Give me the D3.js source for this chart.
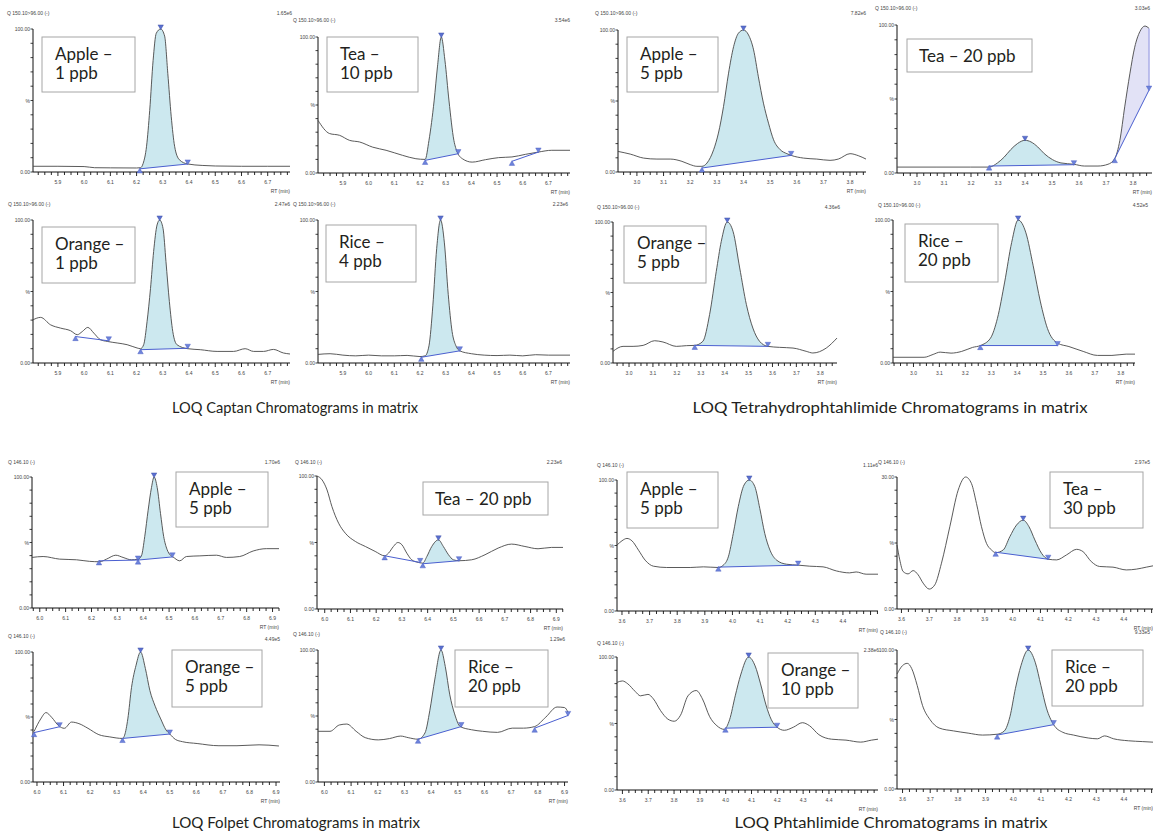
<!DOCTYPE html>
<html>
<head>
<meta charset="utf-8">
<script src="https://cdn.jsdelivr.net/npm/d3@7"></script>
<style>
  body { margin: 0; background: #fff; }
  svg { display: block; }
  .tiny { font-family: "Liberation Sans", Arial, sans-serif; font-size: 5px; fill: #444; }
  .sample { font-family: Lato, "Open Sans", sans-serif; font-size: 17px; fill: #231f20; }
  .caption { font-family: Lato, "Open Sans", sans-serif; font-size: 16px; fill: #231f20; }
</style>
</head>
<body>
<script>
var W = 1153, H = 832;

// ---- traces: [RT (min), % of panel max] ----
var captanApple = [[5.805,4],[5.9,4],[6.0,3.8],[6.04,3],[6.1,2.9],[6.2,2.8],[6.215,3],[6.225,6],[6.238,18],[6.25,43],[6.263,78],[6.275,97],[6.292,100],[6.307,95],[6.319,69],[6.332,39],[6.345,18],[6.363,8.6],[6.395,5.6],[6.45,4.6],[6.5,4.2],[6.6,4],[6.7,4],[6.785,4]];
var captanTea = [[5.803,38.7],[5.848,29],[5.887,27.7],[5.926,24],[5.965,22.8],[6.016,19],[6.068,16.7],[6.132,13],[6.184,10.5],[6.22,10],[6.235,24],[6.255,53],[6.268,78],[6.283,100],[6.297,83],[6.313,53],[6.332,24],[6.345,15.4],[6.365,10.5],[6.403,8],[6.455,9.8],[6.506,11.3],[6.558,11.8],[6.61,13.7],[6.661,15.4],[6.713,16.7],[6.784,16.7]];
var captanOrange = [[5.805,30.2],[5.834,31.9],[5.872,26.7],[5.91,24.4],[5.948,22.6],[5.974,19.8],[5.993,22],[6.014,24.9],[6.037,20.9],[6.062,16.3],[6.088,15.1],[6.126,14],[6.164,12.8],[6.202,10.5],[6.215,10],[6.227,12.8],[6.24,29],[6.253,52],[6.265,78],[6.278,96.5],[6.288,100],[6.301,94],[6.312,71],[6.325,43],[6.338,22],[6.354,12.8],[6.395,10],[6.443,9.3],[6.507,8.1],[6.57,8.1],[6.614,10],[6.646,8.1],[6.684,8.1],[6.722,9.5],[6.76,7],[6.785,6.3]];
var captanRice = [[5.803,6],[5.85,6.5],[5.9,5.5],[5.95,5],[6.0,5.5],[6.05,5],[6.1,5],[6.15,5.3],[6.2,4.5],[6.22,5],[6.235,12],[6.25,40],[6.265,80],[6.28,100],[6.295,84],[6.31,48],[6.325,22],[6.34,12],[6.355,8.5],[6.4,6.5],[6.45,5.5],[6.5,5.2],[6.55,5.5],[6.6,5],[6.65,5.8],[6.7,5.5],[6.784,5.5]];

var thpiApple = [[2.929,14.5],[2.975,12.6],[3.025,9.8],[3.075,9.1],[3.125,9.1],[3.169,7.5],[3.2,5.2],[3.225,4],[3.244,4],[3.263,6.3],[3.288,15.7],[3.306,27.4],[3.325,46],[3.344,69.6],[3.363,88.3],[3.381,97.7],[3.4,100],[3.419,96.5],[3.438,86],[3.456,67],[3.475,48.5],[3.494,34.4],[3.513,22.7],[3.538,15.7],[3.563,12.9],[3.579,11.7],[3.625,9.8],[3.675,9.1],[3.725,8.2],[3.756,9.1],[3.8,12.9],[3.831,11.5],[3.86,9.1]];
var thpiTea = [[2.926,4],[3.074,4],[3.199,4],[3.267,4],[3.298,6.8],[3.323,10.8],[3.347,15.8],[3.372,19.9],[3.4,22.1],[3.422,21],[3.447,17.6],[3.471,13.1],[3.502,9],[3.533,6.8],[3.581,5.9],[3.62,4.7],[3.67,4.7],[3.707,5.9],[3.732,9.7],[3.751,22],[3.769,44.7],[3.788,67],[3.806,85],[3.825,95.5],[3.844,99.3],[3.859,97.7]];
var thpiOrange = [[2.933,8.3],[2.975,11.8],[3.017,11.8],[3.059,12.5],[3.107,15.8],[3.142,14.9],[3.198,11.8],[3.24,12.3],[3.275,12.5],[3.309,15.4],[3.337,34.3],[3.365,65],[3.386,86.3],[3.411,100],[3.435,93.4],[3.463,67.4],[3.491,41.4],[3.518,24.8],[3.546,15.4],[3.581,11.8],[3.63,11.1],[3.686,10.6],[3.741,8.3],[3.769,7.1],[3.825,10.6],[3.87,17.7]];
var thpiRice = [[2.921,4],[3.041,4],[3.076,6],[3.103,7.6],[3.145,6.9],[3.186,8.1],[3.228,10.9],[3.258,12.2],[3.297,17.3],[3.324,31.2],[3.352,56.6],[3.379,84.3],[3.404,100],[3.434,91],[3.462,68],[3.49,42.7],[3.517,24.2],[3.556,13.9],[3.6,11.5],[3.655,8.1],[3.71,5.3],[3.766,5.3],[3.821,6.2],[3.855,6.2]];

var folpetApple = [[5.97,38.6],[6.013,39.3],[6.077,37.3],[6.142,36.8],[6.193,35.6],[6.232,35.3],[6.258,37.3],[6.294,40.3],[6.322,38.6],[6.354,36.8],[6.38,37.3],[6.393,39.8],[6.406,54.7],[6.419,74.6],[6.432,92],[6.442,100],[6.454,92],[6.467,72],[6.479,54.7],[6.492,44.8],[6.505,40.3],[6.513,39.3],[6.541,36],[6.567,39.3],[6.619,39.8],[6.683,40.3],[6.722,38.6],[6.773,39.3],[6.825,43.5],[6.876,45.3],[6.925,45.3]];
var folpetTea = [[5.97,100],[5.99,97],[6.009,89.5],[6.028,77],[6.054,64.5],[6.08,57],[6.119,50.8],[6.158,47],[6.196,43.3],[6.233,40],[6.248,42],[6.267,47],[6.284,50],[6.3,48.3],[6.319,42],[6.338,37],[6.364,35],[6.381,34.5],[6.397,39.5],[6.416,47],[6.442,52],[6.461,47],[6.481,40.8],[6.5,37],[6.522,36.3],[6.571,37],[6.623,40.8],[6.674,45.8],[6.726,48.8],[6.778,47],[6.829,45.3],[6.881,46.3],[6.926,46.3]];
var folpetOrange = [[5.989,38.8],[6.014,48.5],[6.034,53.4],[6.055,49.8],[6.082,43.2],[6.103,41.3],[6.13,46.1],[6.158,44.9],[6.192,41.3],[6.233,36.4],[6.274,34.7],[6.322,33.5],[6.33,36],[6.342,48.5],[6.356,72.8],[6.373,89.8],[6.39,100],[6.408,87.4],[6.425,70.4],[6.445,58.3],[6.466,48.5],[6.486,40],[6.5,36.9],[6.521,32.8],[6.548,31],[6.603,29.6],[6.685,27.9],[6.753,27.9],[6.836,28.6],[6.911,27.7]];
var folpetRice = [[5.976,38.4],[6.021,38.4],[6.056,43.2],[6.084,43.9],[6.119,38.4],[6.153,33.6],[6.202,31.9],[6.244,32.9],[6.286,34.8],[6.314,33.6],[6.351,32.4],[6.377,37.2],[6.395,54],[6.414,78],[6.437,100],[6.453,87.5],[6.47,66],[6.488,51.6],[6.509,42],[6.551,39.6],[6.593,38.4],[6.649,37.6],[6.704,40.8],[6.746,40.8],[6.788,42],[6.83,49.2],[6.872,56.8],[6.9,56.4],[6.913,52.8]];

var phthApple = [[3.582,50.3],[3.6,53.6],[3.618,55.4],[3.636,53.6],[3.66,46.4],[3.684,38.8],[3.714,34.2],[3.762,33.2],[3.847,33.2],[3.895,33.7],[3.949,33.2],[3.967,35],[3.985,41.3],[4.003,59.2],[4.021,79.6],[4.042,96.2],[4.061,100],[4.081,95],[4.099,78.3],[4.117,59.2],[4.136,46.4],[4.16,38.8],[4.196,35.7],[4.238,35],[4.28,34.2],[4.328,33.7],[4.376,30.6],[4.424,29.1],[4.448,29.8],[4.484,28.1],[4.527,28.1]];
var phthTea = [[3.584,48.5],[3.594,37.2],[3.606,28.4],[3.624,26.6],[3.642,29.1],[3.66,25.9],[3.678,19.6],[3.7,15.1],[3.72,18.3],[3.744,34.7],[3.774,62.3],[3.804,90],[3.831,100],[3.852,95],[3.87,79.9],[3.888,62.3],[3.906,49.7],[3.924,44.7],[3.939,42.7],[3.966,44.7],[3.99,54.8],[4.014,63.6],[4.038,67.3],[4.059,62.3],[4.08,52.3],[4.104,42.2],[4.128,37.7],[4.158,37.2],[4.194,41],[4.23,45.2],[4.253,43.5],[4.283,35.9],[4.313,32.2],[4.361,31.7],[4.409,29.6],[4.445,30.2],[4.481,31.7],[4.505,32.7]];
var phthOrange = [[3.579,80.9],[3.6,82],[3.621,79.8],[3.649,74.2],[3.67,70.8],[3.699,71.9],[3.72,68.5],[3.748,59.6],[3.776,53.3],[3.801,51.7],[3.825,56.2],[3.854,70.8],[3.886,74.8],[3.91,68.5],[3.938,55.1],[3.966,48.3],[3.994,45.6],[4.015,52.8],[4.037,70.8],[4.058,86.5],[4.089,100],[4.114,93.3],[4.135,79.8],[4.156,64],[4.177,52.8],[4.199,47.2],[4.227,44.9],[4.262,47.2],[4.297,50.6],[4.325,48.3],[4.361,41.6],[4.41,38.2],[4.466,37.5],[4.523,36],[4.565,37.5],[4.59,38.2]];
var phthRice = [[3.58,82.7],[3.6,88.8],[3.617,90.4],[3.633,86.7],[3.653,74.5],[3.672,60.2],[3.699,50],[3.732,43.9],[3.784,41.8],[3.837,40.2],[3.889,38.8],[3.942,39.4],[3.968,41.8],[3.988,52],[4.008,72.4],[4.028,88.8],[4.054,100],[4.08,90.8],[4.1,74.5],[4.12,58.2],[4.146,46.3],[4.179,40.8],[4.218,38.8],[4.271,36.7],[4.304,36.1],[4.33,38.2],[4.363,36.1],[4.416,34.7],[4.468,34.1],[4.505,33.7]];

// ---- integrations: [start RT, start %, end RT, end %, kind] kind 1 = peak, 0 = other, 2 = cut peak ----
var captanAppleInt = [[6.212,2.2,6.395,5.6,1]];
var captanTeaInt = [[6.22,9.3,6.349,14.2,1],[6.558,8.6,6.661,15.4,0]];
var captanOrangeInt = [[5.967,18.5,6.094,15.5,0],[6.215,9.3,6.395,10.3,1]];
var captanRiceInt = [[6.205,4,6.355,8.5,1]];
var thpiAppleInt = [[3.244,2.8,3.579,11.7,1]];
var thpiTeaInt = [[3.267,4.7,3.581,5.6,1],[3.732,9.7,3.859,56,2]];
var thpiOrangeInt = [[3.275,12.5,3.581,11.8,1]];
var thpiRiceInt = [[3.258,12.2,3.556,12.2,1]];
var folpetAppleInt = [[6.229,36,6.38,36.6,0],[6.38,36.6,6.513,39,1]];
var folpetTeaInt = [[6.233,40,6.371,35,0],[6.381,34,6.522,36.3,1]];
var folpetOrangeInt = [[5.989,38,6.085,42.5,0],[6.322,33.5,6.5,36.9,1]];
var folpetRiceInt = [[6.351,32.4,6.513,42,1],[6.788,40.8,6.913,50.4,0]];
var phthAppleInt = [[3.949,33.5,4.238,35,1]];
var phthTeaInt = [[3.939,43,4.128,37.7,1]];
var phthOrangeInt = [[3.999,46.5,4.199,47.2,1]];
var phthRiceInt = [[3.942,38.8,4.146,46.3,1]];

// ---- RT ranges of each panel, and last labelled RT ----
var rtRanges = [[5.805,6.785],[5.803,6.784],[5.805,6.785],[5.803,6.784],
                [2.929,3.86],[2.926,3.87],[2.933,3.87],[2.921,3.855],
                [5.97,6.925],[5.97,6.926],[5.985,6.915],[5.976,6.913],
                [3.582,4.527],[3.584,4.505],[3.579,4.59],[3.58,4.505]];
var lastLabels = [6.7,6.7,6.7,6.7, 3.8,3.8,3.8,3.8, 6.9,6.9,6.9,6.9, 4.4,4.4,4.4,4.4];

// ---- texts ----
var channels = ["Q 150.10>96.00 (-)","Q 150.10>96.00 (-)","Q 150.10>96.00 (-)","Q 150.10>96.00 (-)",
                "Q 150.10>96.00 (-)","Q 150.10>96.00 (-)","Q 150.10>96.00 (-)","Q 150.10>96.00 (-)",
                "Q 146.10 (-)","Q 146.10 (-)","Q 146.10 (-)","Q 146.10 (-)",
                "Q 146.10 (-)","Q 146.10 (-)","Q 146.10 (-)","Q 146.10 (-)"];
var intensities = ["1.65e6","3.54e6","2.47e6","2.23e6","7.82e6","3.03e6","4.36e6","4.52e5",
                   "1.70e6","2.23e6","4.49e5","1.29e6","1.11e6","2.97e5","2.38e6","9.33e5"];
var topLabels = ["100.00","100.00","100.00","100.00","100.00","100.00","100.00","100.00",
                 "100.00","100.00","100.00","100.00","100.00","30.00","100.00","100.00"];
var samples = [["Apple –","1 ppb"],["Tea –","10 ppb"],["Orange –","1 ppb"],["Rice –","4 ppb"],
               ["Apple –","5 ppb"],["Tea – 20 ppb"],["Orange –","5 ppb"],["Rice –","20 ppb"],
               ["Apple –","5 ppb"],["Tea – 20 ppb"],["Orange –","5 ppb"],["Rice –","20 ppb"],
               ["Apple –","5 ppb"],["Tea –","30 ppb"],["Orange –","10 ppb"],["Rice –","20 ppb"]];
var captions = ["LOQ Captan Chromatograms in matrix",
                "LOQ Tetrahydrophtahlimide Chromatograms in matrix",
                "LOQ Folpet Chromatograms in matrix",
                "LOQ Phtahlimide Chromatograms in matrix"];

var traces = [captanApple, captanTea, captanOrange, captanRice, thpiApple, thpiTea, thpiOrange, thpiRice,
              folpetApple, folpetTea, folpetOrange, folpetRice, phthApple, phthTea, phthOrange, phthRice];
var integrations = [captanAppleInt, captanTeaInt, captanOrangeInt, captanRiceInt, thpiAppleInt, thpiTeaInt, thpiOrangeInt, thpiRiceInt,
                    folpetAppleInt, folpetTeaInt, folpetOrangeInt, folpetRiceInt, phthAppleInt, phthTeaInt, phthOrangeInt, phthRiceInt];

// layout: left, right, top, bottom, channel x/y, intensity x/y, label box x, y, w, h
var layout = [
  [33,290,29,172, 7,15, 292,15, 42,37,93,55],
  [318,570,37,173, 293,22, 570,22, 327,37,91,55],
  [33,290,220,363, 8,206, 290,206, 42,227,93,56],
  [318,570,220,363, 293,206, 568,206, 326,225,90,57],
  [618,866,30,172, 595,15, 866,15, 627,37,91,55],
  [897,1152,25,173, 875,10, 1150,10, 907,39,125,33],
  [613,837,222,363, 597,209, 840,209, 624,226,82,57],
  [893,1135,220,363, 878,207, 1148,207, 905,224,93,58],
  [32,279,477,608, 8,464, 280,464, 176,472,92,55],
  [317,563,476,609, 295,464, 562,464, 423,482,125,33],
  [33,280,652,782, 8,638, 280,641, 172,650,90,57],
  [318,568,650,782, 293,636, 565,641, 455,650,93,57],
  [617,878,480,611, 597,467, 878,467, 627,472,91,56],
  [897,1153,477,609, 878,464, 1150,464, 1050,472,93,56],
  [617,878,657,790, 597,645, 879,652, 768,653,90,55],
  [897,1153,650,789, 880,634, 1150,634, 1052,650,91,56]
];
var captionPos = [[295,413,246],[890,413,395],[296,828,248],[891,828,313]];

var svg = d3.select("body").append("svg").attr("width", W).attr("height", H);

var tri = d3.symbol().type(d3.symbolTriangle).size(13);

function interp(tr, t) {
  for (var i = 1; i < tr.length; i++) {
    if (tr[i][0] >= t) {
      var a = tr[i-1], b = tr[i];
      return a[1] + (b[1]-a[1]) * (t-a[0]) / (b[0]-a[0]);
    }
  }
  return tr[tr.length-1][1];
}

traces.forEach(function(tr, i) {
  var L = layout[i];
  var x = d3.scaleLinear().domain(rtRanges[i]).range([L[0], L[1]]);
  var y = d3.scaleLinear().domain([0, 100]).range([L[3], L[2]]);
  var g = svg.append("g");

  // header texts
  g.append("text").attr("class","tiny").attr("x", L[4]).attr("y", L[5]).text(channels[i]);
  g.append("text").attr("class","tiny").attr("x", L[6]).attr("y", L[7]).attr("text-anchor","end").text(intensities[i]);

  // filled integrations (under the trace)
  integrations[i].forEach(function(r, j) {
    if (r[4] === 0) return;
    var cid = "clip" + i + "_" + j;
    g.append("clipPath").attr("id", cid).append("rect")
      .attr("x", x(r[0])).attr("y", L[2] - 10).attr("width", x(r[2]) - x(r[0])).attr("height", L[3] - L[2] + 20);
    var base = function(t) { return r[1] + (r[3]-r[1]) * (t-r[0]) / (r[2]-r[0]); };
    var area = d3.area().curve(d3.curveMonotoneX)
      .x(function(d) { return x(d[0]); })
      .y1(function(d) { return y(d[1]); })
      .y0(function(d) { return y(base(d[0])); });
    g.append("path").attr("d", area(tr)).attr("clip-path", "url(#" + cid + ")")
      .attr("fill", r[4] === 1 ? "#cce8ef" : "#e2e2f6");
  });

  // axes
  g.append("line").attr("x1", L[0]).attr("x2", L[0]).attr("y1", y(100)).attr("y2", y(0)).attr("stroke","#111").attr("stroke-width",1);
  g.append("line").attr("x1", L[0]).attr("x2", L[1]).attr("y1", y(0)).attr("y2", y(0)).attr("stroke","#111").attr("stroke-width",1);
  g.selectAll(".yt").data(d3.range(0, 101, 10)).enter().append("line")
    .attr("x1", L[0] - 2.5).attr("x2", L[0]).attr("y1", function(d){ return y(d); }).attr("y2", function(d){ return y(d); })
    .attr("stroke","#111").attr("stroke-width",0.8);
  var k0 = Math.ceil(rtRanges[i][0] * 40 - 1e-6), k1 = Math.floor(rtRanges[i][1] * 40 + 1e-6);
  var ks = d3.range(k0, k1 + 1);
  g.selectAll(".xt").data(ks).enter().append("line")
    .attr("x1", function(k){ return x(k/40); }).attr("x2", function(k){ return x(k/40); })
    .attr("y1", y(0)).attr("y2", function(k){ return y(0) + (k % 4 === 0 ? 4 : 3); })
    .attr("stroke","#111").attr("stroke-width",0.9);
  g.selectAll(".xl").data(ks.filter(function(k){ return k % 4 === 0 && k / 40 <= lastLabels[i] + 1e-6; })).enter().append("text")
    .attr("class","tiny").attr("text-anchor","middle")
    .attr("x", function(k){ return x(k/40); }).attr("y", y(0) + 12)
    .text(function(k){ return (k/40).toFixed(1); });
  g.append("text").attr("class","tiny").attr("text-anchor","end").attr("x", L[0]-3).attr("y", y(100)+2).text(topLabels[i]);
  g.append("text").attr("class","tiny").attr("text-anchor","end").attr("x", L[0]-3).attr("y", y(50)+2).text("%");
  g.append("text").attr("class","tiny").attr("text-anchor","end").attr("x", L[0]-3).attr("y", y(0)+2).text("0.00");
  g.append("text").attr("class","tiny").attr("text-anchor","end").attr("x", L[1]).attr("y", y(0)+21).text("RT (min)");

  // trace
  var line = d3.line().curve(d3.curveMonotoneX).x(function(d){ return x(d[0]); }).y(function(d){ return y(d[1]); });
  g.append("path").attr("d", line(tr)).attr("fill","none").attr("stroke","#474747").attr("stroke-width",0.9);

  // baselines and markers
  integrations[i].forEach(function(r) {
    g.append("line").attr("x1", x(r[0])).attr("y1", y(r[1])).attr("x2", x(r[2])).attr("y2", y(r[3]))
      .attr("stroke","#4a5fd0").attr("stroke-width",1);
    if (r[4] === 2) {
      g.append("line").attr("x1", x(r[2])).attr("x2", x(r[2])).attr("y1", y(r[3])).attr("y2", y(interp(tr, r[2])))
        .attr("stroke","#9a9ee4").attr("stroke-width",1.2);
    }
    g.append("path").attr("d", tri).attr("transform","translate(" + x(r[0]) + "," + (y(r[1]) + 2.5) + ")")
      .attr("fill","#6d83da").attr("stroke","#3f52c0").attr("stroke-width",0.4);
    g.append("path").attr("d", tri).attr("transform","translate(" + x(r[2]) + "," + (y(r[3]) - 2.5) + ") rotate(180)")
      .attr("fill","#6d83da").attr("stroke","#3f52c0").attr("stroke-width",0.4);
    if (r[4] === 1) {
      var inside = tr.filter(function(d){ return d[0] >= r[0] && d[0] <= r[2]; });
      var apex = d3.greatest(inside, function(d){ return d[1]; });
      g.append("path").attr("d", tri).attr("transform","translate(" + x(apex[0]) + "," + (y(apex[1]) - 2.5) + ") rotate(180)")
        .attr("fill","#5a6fcf").attr("stroke","#33449f").attr("stroke-width",0.4);
    }
  });

  // sample label box
  g.append("rect").attr("x", L[8]).attr("y", L[9]).attr("width", L[10]).attr("height", L[11])
    .attr("fill","#fff").attr("stroke","#a6a6a6").attr("stroke-width",1);
  var lines = samples[i];
  lines.forEach(function(s, n) {
    var ty = lines.length === 1 ? L[9] + 23 : L[9] + 23 + n * 19;
    g.append("text").attr("class","sample").attr("x", L[8] + (lines.length === 1 ? 12 : 13)).attr("y", ty).text(s);
  });
});

// group captions
captions.forEach(function(c, i) {
  svg.append("text").attr("class","caption").attr("text-anchor","middle")
    .attr("x", captionPos[i][0]).attr("y", captionPos[i][1])
    .attr("textLength", captionPos[i][2]).attr("lengthAdjust","spacingAndGlyphs")
    .text(c);
});
</script>
</body>
</html>
